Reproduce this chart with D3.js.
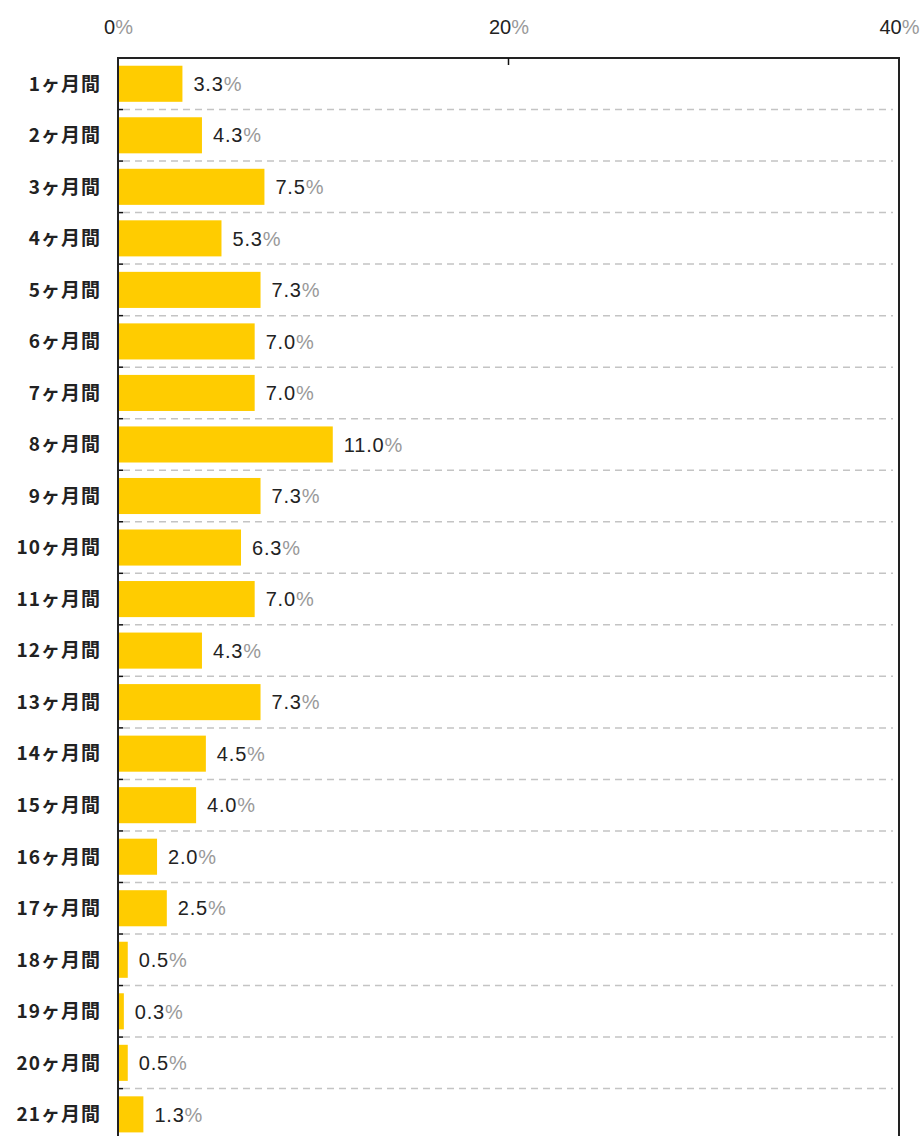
<!DOCTYPE html>
<html>
<head>
<meta charset="utf-8">
<script src="https://cdn.jsdelivr.net/npm/d3@7"></script>
<style>
html,body{margin:0;padding:0;background:#fff;}
svg{display:block;}
</style>
</head>
<body>
<svg id="chart" width="922" height="1136"></svg>
<script>
const categories = ["1ヶ月間","2ヶ月間","3ヶ月間","4ヶ月間","5ヶ月間","6ヶ月間","7ヶ月間","8ヶ月間","9ヶ月間","10ヶ月間","11ヶ月間","12ヶ月間","13ヶ月間","14ヶ月間","15ヶ月間","16ヶ月間","17ヶ月間","18ヶ月間","19ヶ月間","20ヶ月間","21ヶ月間"];
const values = [3.3,4.3,7.5,5.3,7.3,7.0,7.0,11.0,7.3,6.3,7.0,4.3,7.3,4.5,4.0,2.0,2.5,0.5,0.3,0.5,1.3];
const xTicks = [0,20,40];

(function(){
const svg = d3.select("#chart");
const pLeft = 118, pRight = 899, pTop = 58;
const step = 51.53;
const pBottom = pTop + step * categories.length;

const x = d3.scaleLinear().domain([0,40]).range([pLeft,pRight]);
const y = d3.scaleBand().domain(categories).range([pTop,pBottom]).paddingInner(0.3).paddingOuter(0.15);
const sepY = d => y(d) - y.step()*y.paddingInner()/2;

const numFont = "'Liberation Sans', Arial, Helvetica, sans-serif";
const jpFont = "'Noto Sans CJK JP', sans-serif";

// dashed separators
svg.append("g").selectAll("line").data(categories.slice(1)).join("line")
  .attr("x1", pLeft + 5).attr("x2", pRight - 6)
  .attr("y1", sepY).attr("y2", sepY)
  .attr("stroke", "#c4c4c4").attr("stroke-width", 1.5)
  .attr("stroke-dasharray", "7,5");

// left small ticks
svg.append("g").selectAll("line").data(categories.slice(1)).join("line")
  .attr("x1", pLeft).attr("x2", pLeft + 5)
  .attr("y1", sepY).attr("y2", sepY)
  .attr("stroke", "#111").attr("stroke-width", 1.5);

// bars
svg.append("g").selectAll("rect").data(values).join("rect")
  .attr("x", x(0))
  .attr("y", (d,i) => y(categories[i]))
  .attr("width", d => x(d) - x(0))
  .attr("height", y.bandwidth())
  .attr("fill", "#ffcc00");

// frame
svg.append("path")
  .attr("d", `M${pLeft},${pBottom + 20}V${pTop}H${pRight}V${pBottom + 20}`)
  .attr("fill", "none").attr("stroke", "#222").attr("stroke-width", 2);

// top axis
const xAxis = d3.axisTop(x).tickValues(xTicks).tickSize(0).tickFormat(d => d);
const gx = svg.append("g").attr("transform", `translate(0,${pTop})`).call(xAxis);
gx.select(".domain").remove();
gx.selectAll(".tick text").remove();
gx.selectAll(".tick").each(function(d){
  const t = d3.select(this).append("text")
    .attr("y", -24).attr("text-anchor", "middle")
    .attr("font-family", numFont).attr("font-size", 20);
  t.append("tspan").attr("fill", "#222").text(d);
  t.append("tspan").attr("fill", "#999").text("%");
});
// inner tick at middle
svg.append("g").selectAll("line").data(xTicks.filter(d => d > 0 && d < 40)).join("line")
  .attr("x1", d => x(d)).attr("x2", d => x(d))
  .attr("y1", pTop).attr("y2", pTop + 7)
  .attr("stroke", "#111").attr("stroke-width", 1.5);

// category labels
svg.append("g").selectAll("text").data(categories).join("text")
  .attr("x", 101)
  .attr("y", d => y(d) + y.bandwidth()/2)
  .attr("dy", "0.36em")
  .attr("text-anchor", "end")
  .attr("font-family", jpFont).attr("font-weight", "bold").attr("font-size", 19)
  .attr("letter-spacing", 1)
  .attr("fill", "#222")
  .text(d => d);

// value labels
const vl = svg.append("g").selectAll("text").data(values).join("text")
  .attr("x", d => x(d) + 11)
  .attr("y", (d,i) => y(categories[i]) + y.bandwidth()/2)
  .attr("dy", "0.36em")
  .attr("letter-spacing", 0.8)
  .attr("font-family", numFont).attr("font-size", 20);
vl.append("tspan").attr("fill", "#222").text(d => d.toFixed(1));
vl.append("tspan").attr("fill", "#999").text("%");
})();
</script>
</body>
</html>
